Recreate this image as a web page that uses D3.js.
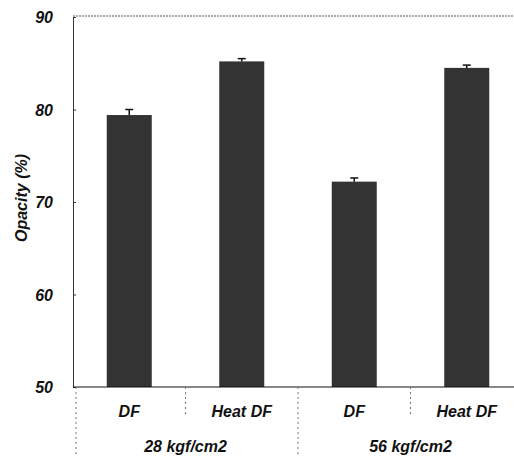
<!DOCTYPE html>
<html>
<head>
<meta charset="utf-8">
<script src="https://cdn.jsdelivr.net/npm/d3@7"></script>
<style>
  body { margin: 0; background: #fff; }
  text { font-family: "Liberation Sans", Arial, sans-serif; font-weight: bold; font-style: italic; fill: #111; }
</style>
</head>
<body>
<div id="chart-area"></div>
<script>
// data
const conditions = ['DF', 'Heat DF', 'DF', 'Heat DF'];
const pressures = ['28 kgf/cm2', '56 kgf/cm2'];
const pressureOf = [0, 0, 1, 1];
const opacity = [79.4, 85.2, 72.2, 84.5];
const errors = [0.6, 0.3, 0.4, 0.3];
const yTicks = [50, 60, 70, 80, 90];

const W = 514, H = 456;
const margin = { left: 73, right: 523, top: 17, bottom: 387 };

const svg = d3.select('#chart-area')
  .append('svg')
  .attr('width', W)
  .attr('height', H);

const x = d3.scaleBand()
  .domain(d3.range(conditions.length))
  .range([margin.left, margin.right])
  .paddingInner(0.6)
  .paddingOuter(0.3);

const y = d3.scaleLinear()
  .domain([50, 90])
  .range([margin.bottom, margin.top]);

const step = x.step();

// top border, dotted
svg.append('line')
  .attr('x1', margin.left).attr('x2', W)
  .attr('y1', margin.top - 1).attr('y2', margin.top - 1)
  .attr('stroke', '#555')
  .attr('stroke-width', 1)
  .attr('stroke-dasharray', '2,1');

// bars
const data = opacity.map((v, i) => ({ i: i, v: v, e: errors[i] }));

svg.selectAll('rect.bar')
  .data(data)
  .enter()
  .append('rect')
  .attr('class', 'bar')
  .attr('x', d => x(d.i))
  .attr('y', d => y(d.v))
  .attr('width', x.bandwidth())
  .attr('height', d => y(50) - y(d.v))
  .attr('fill', '#333');

// error bars (upper only)
const eb = svg.selectAll('g.err')
  .data(data)
  .enter()
  .append('g')
  .attr('class', 'err');

eb.append('line')
  .attr('x1', d => x(d.i) + x.bandwidth() / 2)
  .attr('x2', d => x(d.i) + x.bandwidth() / 2)
  .attr('y1', d => y(d.v))
  .attr('y2', d => y(d.v + d.e))
  .attr('stroke', '#111')
  .attr('stroke-width', 1.5);

eb.append('line')
  .attr('x1', d => x(d.i) + x.bandwidth() / 2 - 4)
  .attr('x2', d => x(d.i) + x.bandwidth() / 2 + 4)
  .attr('y1', d => y(d.v + d.e))
  .attr('y2', d => y(d.v + d.e))
  .attr('stroke', '#111')
  .attr('stroke-width', 1.5);

// y axis
const yAxis = d3.axisLeft(y)
  .tickValues(yTicks)
  .tickSize(-3)
  .tickPadding(20);

const ya = svg.append('g')
  .attr('transform', 'translate(' + margin.left + ',0)')
  .call(yAxis);
ya.select('.domain').attr('stroke', '#333');
ya.selectAll('.tick line').attr('stroke', '#333');
ya.selectAll('text')
  .attr('font-size', '16px')
  .attr('fill', '#111')
  .attr('dy', '0.35em');

// x axis line
svg.append('line')
  .attr('x1', margin.left).attr('x2', W)
  .attr('y1', margin.bottom).attr('y2', margin.bottom)
  .attr('stroke', '#111')
  .attr('stroke-width', 1.2);

// separators below the axis
const sepInner = [1, 3].map(i => x(i) - step * 0.3);
svg.selectAll('line.sep1')
  .data(sepInner)
  .enter()
  .append('line')
  .attr('x1', d => d).attr('x2', d => d)
  .attr('y1', margin.bottom).attr('y2', margin.bottom + 30)
  .attr('stroke', '#777')
  .attr('stroke-dasharray', '2,3');

const sepOuter = [0, 2].map(i => x(i) - step * 0.3);
svg.selectAll('line.sep2')
  .data(sepOuter)
  .enter()
  .append('line')
  .attr('x1', (d, i) => i === 0 ? d + 3 : d)
  .attr('x2', (d, i) => i === 0 ? d + 3 : d)
  .attr('y1', margin.bottom).attr('y2', H)
  .attr('stroke', '#777')
  .attr('stroke-dasharray', '2,3');

// category labels
svg.selectAll('text.cond')
  .data(conditions)
  .enter()
  .append('text')
  .attr('class', 'cond')
  .attr('x', (d, i) => x(i) + x.bandwidth() / 2)
  .attr('y', 417)
  .attr('text-anchor', 'middle')
  .attr('font-size', '16px')
  .text(d => d);

// pressure group labels
svg.selectAll('text.press')
  .data(pressures)
  .enter()
  .append('text')
  .attr('class', 'press')
  .attr('x', (d, gi) => {
    const idx = pressureOf.map((p, i) => p === gi ? i : -1).filter(i => i >= 0);
    const x0 = x(idx[0]) - step * 0.3;
    const x1 = x(idx[idx.length - 1]) + x.bandwidth() + step * 0.3;
    return (x0 + x1) / 2;
  })
  .attr('y', 452)
  .attr('text-anchor', 'middle')
  .attr('font-size', '16px')
  .text(d => d);

// y axis title
svg.append('text')
  .attr('transform', 'rotate(-90)')
  .attr('x', -198)
  .attr('y', 27)
  .attr('text-anchor', 'middle')
  .attr('font-size', '16px')
  .text('Opacity (%)');
</script>
</body>
</html>
